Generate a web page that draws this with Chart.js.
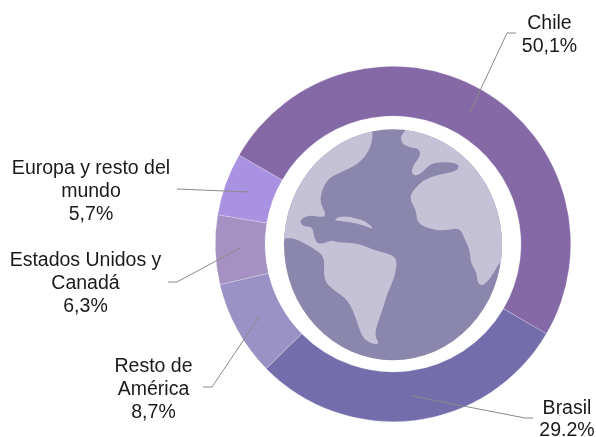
<!DOCTYPE html>
<html><head><meta charset="utf-8">
<style>html,body{margin:0;padding:0;background:#fff}#w{position:relative;width:596px;height:437px}canvas{display:block}</style>
<script src="https://cdn.jsdelivr.net/npm/chart.js@4"></script></head>
<body><div id="w"><canvas id="c" width="596" height="437"></canvas></div>
<script>
const categories = ['Chile','Brasil','Resto de América','Estados Unidos y Canadá','Europa y resto del mundo'];
const shares = [50.1,29.2,8.7,6.3,5.7];
const colors = ['#8569A7','#746DAC','#9A92C5','#A592C2','#A992E1'];
const labelLines = [['Chile','50,1%'],['Brasil','29.2%'],['Resto de','América','8,7%'],['Estados Unidos y','Canadá','6,3%'],['Europa y resto del','mundo','5,7%']];
const labelAnchors = [[549.5,29],[567,414],[153.5,372],[85.5,266],[91,174]];
const leaders = [
 [[470,112],[507,33],[516,33]],
 [[412,396],[525,418],[533,418]],
 [[259,317],[212,387],[203,387]],
 [[240,248],[177,282],[168,282]],
 [[249,192],[177,189]]
];
const landA=[[518,240],[515,290],[480,340],[420,368],[385,385],[365,420],[360,460],[378,490],[370,503],[330,495],[305,505],[300,520],[315,530],[338,530],[342,565],[358,585],[395,570],[410,578],[470,578],[520,600],[570,612],[592,628],[585,680],[560,735],[548,780],[530,825],[525,860],[540,884],[510,880],[485,860],[470,810],[445,750],[400,720],[370,690],[375,620],[340,595],[285,565],[255,565],[200,560],[200,300],[400,200],[518,200]];
const landB=[[403,507],[430,497],[470,505],[500,515],[524,540],[490,525],[440,515],[410,513]];
const landC=[[620,240],[602,255],[605,280],[630,293],[655,295],[663,315],[640,345],[633,370],[650,378],[670,365],[690,342],[730,335],[770,340],[778,352],[765,365],[710,375],[670,390],[640,420],[628,445],[650,485],[650,515],[680,535],[730,543],[780,532],[795,570],[810,600],[812,640],[830,665],[832,700],[850,708],[875,680],[905,625],[960,600],[960,300],[800,200],[620,200]];
function smooth(ctx,p){
  const m=(a,b)=>[(a[0]+b[0])/2,(a[1]+b[1])/2];
  ctx.beginPath();
  let s=m(p[p.length-1],p[0]);ctx.moveTo(s[0],s[1]);
  for(let i=0;i<p.length;i++){const q=m(p[i],p[(i+1)%p.length]);ctx.quadraticCurveTo(p[i][0],p[i][1],q[0],q[1]);}
  ctx.closePath();
}
const overlay={id:'overlay',afterDraw(chart){
  const ctx=chart.ctx,a=chart.getDatasetMeta(0).data[0],cx=a.x,cy=a.y;
  ctx.save();
  ctx.beginPath();ctx.ellipse(cx,cy+0.7,109,115.5,0,0,Math.PI*2);ctx.fillStyle='#8A86AC';ctx.fill();ctx.clip();
  ctx.translate(200,50);ctx.scale(1/3,1/3);ctx.translate(cx-393,cy-244);
  ctx.fillStyle='#C5C2D7';
  [landA,landB,landC].forEach(p=>{smooth(ctx,p);ctx.fill();});
  ctx.restore();
  ctx.save();
  ctx.strokeStyle='#8a8a8a';ctx.lineWidth=1;
  leaders.forEach(l=>{ctx.beginPath();l.forEach((q,i)=>i?ctx.lineTo(q[0],q[1]):ctx.moveTo(q[0],q[1]));ctx.stroke();});
  ctx.fillStyle='#1a1a1a';ctx.font='19.5px "Liberation Sans"';ctx.textAlign='center';ctx.textBaseline='alphabetic';
  labelLines.forEach((ls,i)=>ls.forEach((t,j)=>ctx.fillText(t,labelAnchors[i][0],labelAnchors[i][1]+j*(i===1?22:23))));
  ctx.restore();
}};
new Chart(document.getElementById('c'),{type:'doughnut',
 data:{labels:categories,datasets:[{data:shares,backgroundColor:colors,borderColor:'rgba(255,255,255,0.45)',borderWidth:0.5,borderAlign:'center'}]},
 options:{responsive:false,animation:false,rotation:-60,cutout:'72%',
  layout:{padding:{left:215,right:25,top:66,bottom:15}},
  plugins:{legend:{display:false},tooltip:{enabled:false}}},
 plugins:[overlay]});
</script></body></html>
